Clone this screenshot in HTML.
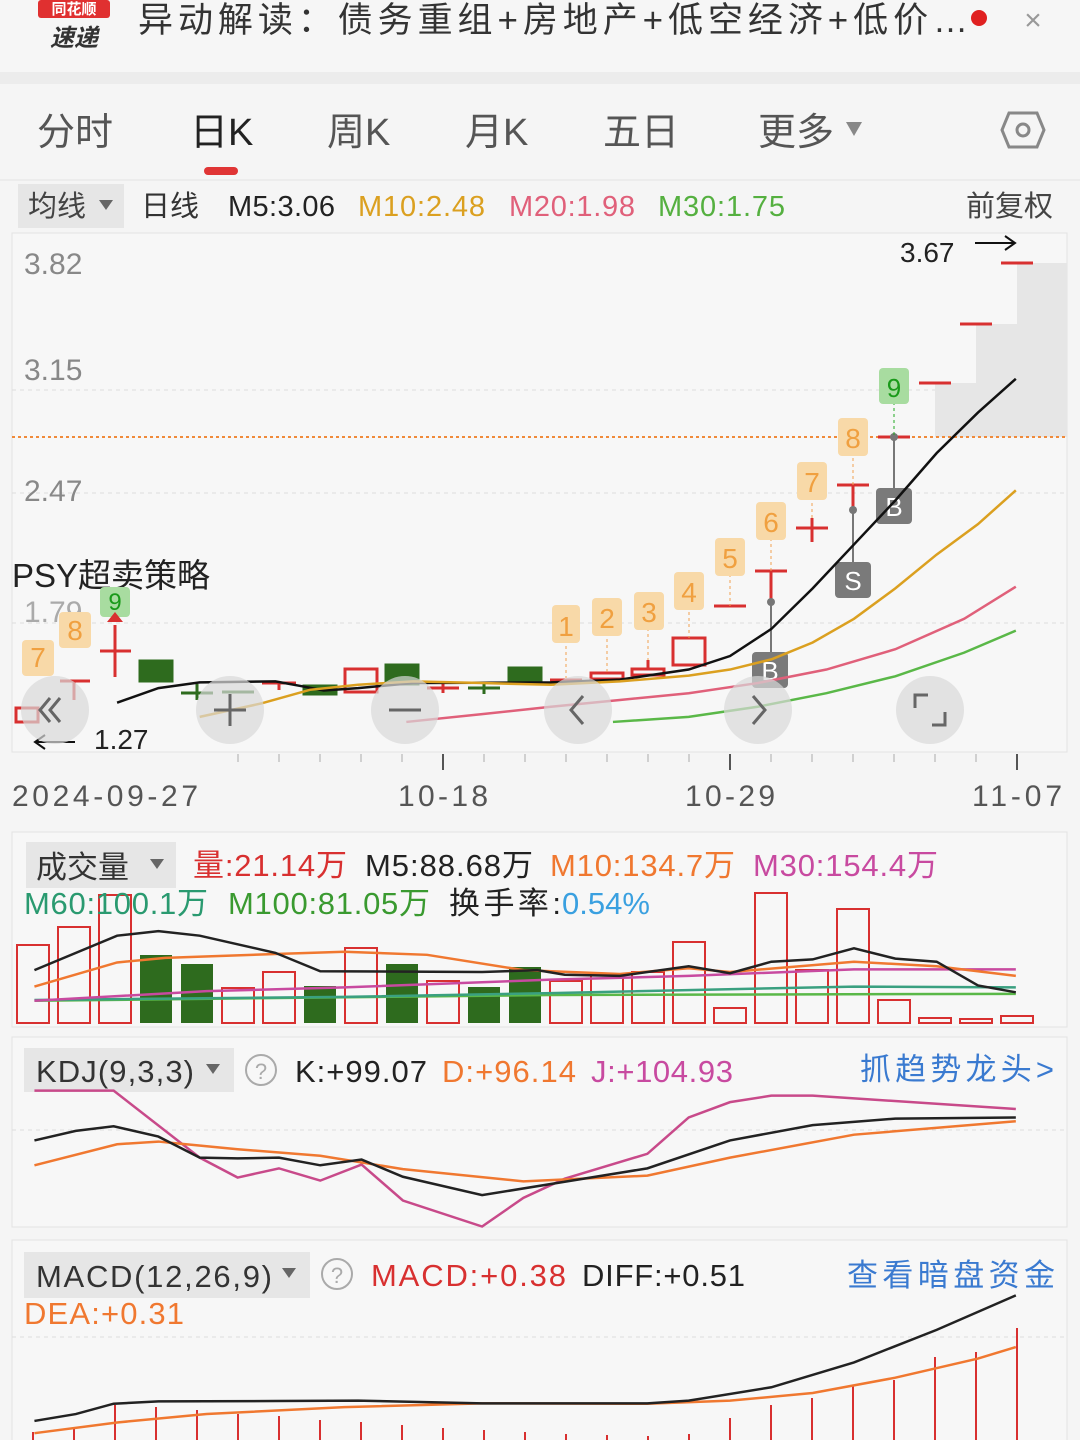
<!DOCTYPE html>
<html><head><meta charset="utf-8"><style>
html,body{margin:0;padding:0;background:#f4f4f4;}
svg{display:block;font-family:"Liberation Sans","Noto Sans CJK SC",sans-serif;}
</style></head><body>
<svg width="1080" height="1440" viewBox="0 0 1080 1440" xmlns="http://www.w3.org/2000/svg">
<rect width="1080" height="1440" fill="#f5f5f5"/>
<!-- header -->
<rect x="0" y="0" width="1080" height="72" fill="#f6f6f6"/>
<rect x="38" y="0" width="72" height="18" rx="3" fill="#e03030"/>
<text x="74" y="14" font-size="15" fill="#fff" text-anchor="middle" font-weight="bold">同花顺</text>
<text x="74" y="46" font-size="24" fill="#333" text-anchor="middle" font-weight="bold" font-style="italic">速递</text>
<text x="138" y="32" font-size="35" fill="#333" textLength="830">异动解读：债务重组+房地产+低空经济+低价…</text>
<circle cx="979" cy="18" r="8" fill="#e02020"/>
<text x="1033" y="30" font-size="30" fill="#999" text-anchor="middle">×</text>
<rect x="0" y="72" width="1080" height="12" fill="#ececec"/>
<!-- tabs -->
<g font-size="38" fill="#555">
<text x="37" y="145">分时</text>
<text x="190" y="145" fill="#222">日K</text>
<text x="327" y="145">周K</text>
<text x="465" y="145">月K</text>
<text x="603" y="145">五日</text>
<text x="758" y="145">更多</text>
</g>
<path d="M846 122 L862 122 L854 136 Z" fill="#888"/>
<polygon points="1009,113 1037,113 1044,130 1037,147 1009,147 1002,130" fill="none" stroke="#888" stroke-width="3"/>
<circle cx="1023" cy="130" r="6" fill="none" stroke="#888" stroke-width="3"/>
<rect x="204" y="167" width="34" height="8" rx="4" fill="#e03535"/>
<line x1="0" y1="180" x2="1080" y2="180" stroke="#e2e2e2"/>
<!-- MA row -->
<rect x="18" y="184" width="106" height="44" fill="#e6e6e6"/>
<text x="28" y="216" font-size="29" fill="#444">均线</text>
<path d="M99 200 L113 200 L106 210 Z" fill="#666"/>
<text x="141" y="216" font-size="29" fill="#333">日线</text>
<text x="228" y="216" font-size="29" fill="#222" textLength="107">M5:3.06</text>
<text x="358" y="216" font-size="29" fill="#dba020" textLength="127">M10:2.48</text>
<text x="509" y="216" font-size="29" fill="#e0607a" textLength="126">M20:1.98</text>
<text x="658" y="216" font-size="29" fill="#55b040" textLength="127">M30:1.75</text>
<text x="966" y="216" font-size="29" fill="#444">前复权</text>
<!-- main chart panel -->
<rect x="12" y="233" width="1055" height="519" fill="#f7f7f7" stroke="#e3e3e3"/>
<g stroke="#ddd" stroke-dasharray="4,4">
<line x1="12" y1="390" x2="1067" y2="390"/>
<line x1="12" y1="493" x2="1067" y2="493"/>
<line x1="12" y1="623" x2="1067" y2="623"/>
</g>
<!-- gray staircase -->
<path d="M935 437 L935 383 L976 383 L976 324 L1017 324 L1017 263 L1067 263 L1067 437 Z" fill="#e6e6e6"/>
<line x1="12" y1="437" x2="1067" y2="437" stroke="#f08a3a" stroke-width="2" stroke-dasharray="3,3"/>
<g font-size="30" fill="#888">
<text x="24" y="274">3.82</text>
<text x="24" y="380">3.15</text>
<text x="24" y="501">2.47</text>
<text x="24" y="622" fill="#aaa">1.79</text>
</g>
<text x="900" y="262" font-size="28" fill="#222">3.67</text>
<path d="M975 243 L1015 243 M1005 236 L1015 243 L1005 250" stroke="#111" stroke-width="2" fill="none"/>
<text x="94" y="749" font-size="28" fill="#222">1.27</text>
<path d="M75 742 L35 742 M45 735 L35 742 L45 749" stroke="#111" stroke-width="2" fill="none"/>
<text x="12" y="587" font-size="33" fill="#222">PSY超卖策略</text>
<!-- candles -->
<g stroke="#d83030" stroke-width="3" fill="none">
<rect x="16" y="708" width="22" height="14"/>
<line x1="60" y1="681" x2="90" y2="681"/><line x1="74" y1="681" x2="74" y2="700"/>
<line x1="100" y1="651" x2="131" y2="651"/><line x1="115" y1="625" x2="115" y2="677"/>
<line x1="262" y1="683" x2="296" y2="683"/><line x1="279" y1="683" x2="279" y2="690"/>
<rect x="345" y="669" width="32" height="23"/>
<line x1="427" y1="688" x2="459" y2="688"/><line x1="443" y1="684" x2="443" y2="693"/>
<line x1="550" y1="680" x2="582" y2="680"/>
<rect x="591" y="673" width="32" height="6"/>
<rect x="632" y="669" width="32" height="6"/><line x1="648" y1="660" x2="648" y2="669"/>
<rect x="673" y="638" width="32" height="27"/>
<line x1="714" y1="606" x2="746" y2="606"/>
<line x1="755" y1="571" x2="787" y2="571"/><line x1="771" y1="571" x2="771" y2="602"/>
<line x1="796" y1="528" x2="828" y2="528"/><line x1="812" y1="518" x2="812" y2="542"/>
<line x1="837" y1="485" x2="869" y2="485"/><line x1="853" y1="485" x2="853" y2="510"/>
<line x1="878" y1="437" x2="910" y2="437"/>
<line x1="919" y1="383" x2="951" y2="383"/>
<line x1="960" y1="324" x2="992" y2="324"/>
<line x1="1001" y1="263" x2="1033" y2="263"/>
</g>
<g fill="#2e6b1e" stroke="#2e6b1e" stroke-width="3">
<rect x="140" y="661" width="32" height="20"/>
<line x1="181" y1="693" x2="213" y2="693"/><line x1="197" y1="684" x2="197" y2="700"/>
<line x1="222" y1="692" x2="254" y2="692"/>
<rect x="304" y="686" width="32" height="8"/>
<rect x="386" y="665" width="32" height="19"/>
<line x1="468" y1="688" x2="500" y2="688"/><line x1="484" y1="683" x2="484" y2="694"/>
<rect x="509" y="668" width="32" height="12"/>
</g>
<!-- grey B/S markers -->
<g stroke="#777" stroke-width="2"><line x1="771" y1="602" x2="771" y2="660"/><line x1="853" y1="510" x2="853" y2="565"/><line x1="894" y1="437" x2="894" y2="488"/></g>
<g fill="#777"><circle cx="771" cy="602" r="4"/><circle cx="853" cy="510" r="4"/><circle cx="894" cy="437" r="4"/></g>
<g fill="#7a7a7a"><rect x="752" y="652" width="36" height="36" rx="4"/><rect x="835" y="562" width="36" height="36" rx="4"/><rect x="876" y="488" width="36" height="36" rx="4"/></g>
<g fill="#fff" font-size="26" text-anchor="middle"><text x="770" y="680">B</text><text x="853" y="590">S</text><text x="894" y="516">B</text></g>
<!-- number tags -->
<g stroke="#f0a050" stroke-width="1" stroke-dasharray="3,3">
<line x1="566" y1="640" x2="566" y2="678"/><line x1="607" y1="633" x2="607" y2="672"/><line x1="648" y1="628" x2="648" y2="660"/><line x1="689" y1="606" x2="689" y2="638"/>
<line x1="730" y1="574" x2="730" y2="606"/><line x1="771" y1="538" x2="771" y2="571"/><line x1="812" y1="497" x2="812" y2="518"/><line x1="853" y1="452" x2="853" y2="485"/>
</g>
<line x1="894" y1="402" x2="894" y2="437" stroke="#2a2" stroke-dasharray="3,3"/>
<g fill="#f8d9a8">
<rect x="22" y="640" width="32" height="36" rx="4"/><rect x="59" y="612" width="32" height="36" rx="4"/>
<rect x="552" y="605" width="28" height="38" rx="4"/><rect x="592" y="598" width="30" height="38" rx="4"/><rect x="634" y="592" width="30" height="38" rx="4"/><rect x="674" y="572" width="30" height="38" rx="4"/>
<rect x="715" y="538" width="30" height="38" rx="4"/><rect x="756" y="502" width="30" height="38" rx="4"/><rect x="797" y="462" width="30" height="38" rx="4"/><rect x="838" y="418" width="30" height="38" rx="4"/>
</g>
<rect x="879" y="368" width="30" height="36" rx="4" fill="#a8dca0"/>
<rect x="100" y="587" width="30" height="30" rx="4" fill="#a8dca0"/>
<path d="M107 622 L115 612 L123 622 Z" fill="#d83030"/>
<g font-size="28" fill="#f0a040" text-anchor="middle">
<text x="38" y="667">7</text><text x="75" y="640">8</text>
<text x="566" y="636">1</text><text x="607" y="628">2</text><text x="649" y="622">3</text><text x="689" y="602">4</text>
<text x="730" y="568">5</text><text x="771" y="532">6</text><text x="812" y="492">7</text><text x="853" y="448">8</text>
</g>
<text x="894" y="397" font-size="26" fill="#1a9a1a" text-anchor="middle">9</text>
<text x="115" y="610" font-size="24" fill="#1a9a1a" text-anchor="middle">9</text>
<!-- MA lines in zoom coords -->
<g transform="translate(0,230) scale(0.6887,0.3381)" fill="none" stroke-width="2.5">
<polyline vector-effect="non-scaling-stroke" stroke="#111" points="170,1398 230,1355 290,1338 400,1335 440,1350 470,1362 520,1355 600,1340 800,1338 900,1330 1000,1300 1060,1260 1120,1180 1180,1060 1240,930 1300,800 1360,660 1420,540 1475,440"/>
<polyline vector-effect="non-scaling-stroke" stroke="#dba020" points="290,1440 380,1400 450,1360 520,1345 600,1335 700,1340 800,1345 900,1335 1000,1318 1060,1300 1120,1270 1180,1220 1240,1150 1300,1060 1360,960 1420,870 1475,770"/>
<polyline vector-effect="non-scaling-stroke" stroke="#e0607a" points="590,1455 700,1432 800,1410 900,1390 1000,1370 1100,1340 1200,1300 1300,1240 1400,1150 1475,1055"/>
<polyline vector-effect="non-scaling-stroke" stroke="#5ab848" points="890,1455 1000,1440 1100,1410 1200,1370 1300,1320 1400,1250 1475,1185"/>
</g>
<!-- nav overlay buttons -->
<g fill="#d8d8d8" fill-opacity="0.7">
<circle cx="55" cy="710" r="34"/><circle cx="230" cy="710" r="34"/><circle cx="405" cy="710" r="34"/><circle cx="578" cy="710" r="34"/><circle cx="758" cy="710" r="34"/><circle cx="930" cy="710" r="34"/>
</g>
<g stroke="#666" stroke-width="3" fill="none">
<path d="M50 698 L40 710 L50 722 M60 698 L50 710 L60 722"/>
<path d="M214 710 L246 710 M230 694 L230 726"/>
<path d="M389 710 L421 710"/>
<path d="M583 696 L571 710 L583 724"/>
<path d="M753 696 L765 710 L753 724"/>
<path d="M915 708 L915 695 L928 695 M945 712 L945 725 L932 725"/>
</g>
<!-- x axis ticks -->
<g stroke="#aaa" stroke-width="1">
<line x1="238" y1="754" x2="238" y2="762"/><line x1="279" y1="754" x2="279" y2="762"/><line x1="320" y1="754" x2="320" y2="762"/><line x1="361" y1="754" x2="361" y2="762"/><line x1="402" y1="754" x2="402" y2="762"/>
<line x1="484" y1="754" x2="484" y2="762"/><line x1="525" y1="754" x2="525" y2="762"/><line x1="566" y1="754" x2="566" y2="762"/><line x1="607" y1="754" x2="607" y2="762"/><line x1="648" y1="754" x2="648" y2="762"/><line x1="689" y1="754" x2="689" y2="762"/>
<line x1="771" y1="754" x2="771" y2="762"/><line x1="812" y1="754" x2="812" y2="762"/><line x1="853" y1="754" x2="853" y2="762"/><line x1="894" y1="754" x2="894" y2="762"/><line x1="935" y1="754" x2="935" y2="762"/><line x1="976" y1="754" x2="976" y2="762"/>
</g>
<g stroke="#555" stroke-width="2"><line x1="443" y1="754" x2="443" y2="770"/><line x1="730" y1="754" x2="730" y2="770"/><line x1="1017" y1="754" x2="1017" y2="770"/></g>
<g font-size="30" fill="#555">
<text x="12" y="806" textLength="186">2024-09-27</text>
<text x="398" y="806" textLength="90">10-18</text>
<text x="685" y="806" textLength="90">10-29</text>
<text x="972" y="806" textLength="90">11-07</text>
</g>
<!-- volume panel -->
<rect x="12" y="832" width="1055" height="195" fill="#f7f7f7" stroke="#e3e3e3"/>
<g fill="none" stroke="#d83030" stroke-width="2">
<rect x="17" y="945" width="32" height="78"/><rect x="58" y="927" width="32" height="96"/><rect x="99" y="895" width="32" height="128"/>
<rect x="222" y="988" width="32" height="35"/><rect x="263" y="972" width="32" height="51"/><rect x="345" y="948" width="32" height="75"/>
<rect x="427" y="981" width="32" height="42"/><rect x="550" y="981" width="32" height="42"/><rect x="591" y="975" width="32" height="48"/><rect x="632" y="972" width="32" height="51"/>
<rect x="673" y="942" width="32" height="81"/><rect x="714" y="1008" width="32" height="15"/><rect x="755" y="893" width="32" height="130"/><rect x="796" y="970" width="32" height="53"/>
<rect x="837" y="909" width="32" height="114"/><rect x="878" y="1000" width="32" height="23"/><rect x="919" y="1018" width="32" height="5"/><rect x="960" y="1019" width="32" height="4"/><rect x="1001" y="1016" width="32" height="7"/>
</g>
<g fill="#2e6b1e">
<rect x="140" y="955" width="32" height="68"/><rect x="181" y="964" width="32" height="59"/><rect x="304" y="986" width="32" height="37"/><rect x="386" y="964" width="32" height="59"/>
<rect x="468" y="987" width="32" height="36"/><rect x="509" y="967" width="32" height="56"/>
</g>
<g transform="translate(0,840) scale(0.6887,0.3827)" fill="none" stroke-width="2.5">
<polyline vector-effect="non-scaling-stroke" stroke="#5ab848" points="50,420 800,405 1475,402"/>
<polyline vector-effect="non-scaling-stroke" stroke="#3aa080" points="50,418 500,410 800,400 1240,383 1475,385"/>
<polyline vector-effect="non-scaling-stroke" stroke="#c84aa0" points="50,420 300,395 500,385 800,365 1000,355 1240,338 1475,338"/>
<polyline vector-effect="non-scaling-stroke" stroke="#f07830" points="50,383 170,320 240,308 400,298 500,292 620,300 760,340 900,350 1000,335 1060,345 1240,318 1360,330 1475,355"/>
<polyline vector-effect="non-scaling-stroke" stroke="#222" points="50,340 170,250 230,238 290,250 400,295 465,343 700,345 780,340 820,352 900,355 1000,330 1060,348 1120,318 1180,312 1240,283 1300,310 1360,318 1420,380 1475,398"/>
</g>
<rect x="26" y="842" width="150" height="46" fill="#e6e6e6"/>
<text x="36" y="878" font-size="31" fill="#333">成交量</text>
<path d="M150 859 L164 859 L157 869 Z" fill="#666"/>
<g font-size="31">
<text x="193" y="876" fill="#d83030" textLength="154">量:21.14万</text>
<text x="365" y="876" fill="#222" textLength="168">M5:88.68万</text>
<text x="550" y="876" fill="#f07830" textLength="185">M10:134.7万</text>
<text x="753" y="876" fill="#c84aa0" textLength="185">M30:154.4万</text>
<text x="24" y="914" fill="#2a9a70" textLength="184">M60:100.1万</text>
<text x="228" y="914" fill="#3a9a30" textLength="202">M100:81.05万</text>
<text x="449" y="914" fill="#222" textLength="112">换手率:</text>
<text x="562" y="914" fill="#3aa0e0" textLength="88">0.54%</text>
</g>
<!-- KDJ panel -->
<rect x="12" y="1037" width="1055" height="190" fill="#f7f7f7" stroke="#e3e3e3"/>
<line x1="12" y1="1130" x2="1067" y2="1130" stroke="#ddd" stroke-dasharray="4,4"/>
<rect x="24" y="1048" width="210" height="44" fill="#e6e6e6"/>
<text x="36" y="1082" font-size="31" fill="#333" textLength="158">KDJ(9,3,3)</text>
<path d="M206 1064 L220 1064 L213 1074 Z" fill="#666"/>
<circle cx="261" cy="1070" r="15" fill="none" stroke="#aaa" stroke-width="2"/>
<text x="261" y="1079" font-size="22" fill="#aaa" text-anchor="middle">?</text>
<g font-size="31">
<text x="295" y="1082" fill="#222" textLength="132">K:+99.07</text>
<text x="442" y="1082" fill="#f07830" textLength="134">D:+96.14</text>
<text x="591" y="1082" fill="#c84aa0" textLength="142">J:+104.93</text>
<text x="860" y="1080" fill="#3a7ad0" textLength="194">抓趋势龙头&gt;</text>
</g>
<g transform="translate(0,840) scale(0.6887,0.3827)" fill="none" stroke-width="2.5">
<polyline vector-effect="non-scaling-stroke" stroke="#c84a8a" points="50,655 165,655 290,830 345,882 405,858 465,890 525,848 585,942 700,1010 760,935 820,885 940,820 1000,725 1060,685 1120,668 1180,668 1475,703"/>
<polyline vector-effect="non-scaling-stroke" stroke="#f07830" points="50,850 170,795 230,788 345,808 465,825 585,860 760,892 940,877 1060,830 1240,770 1475,735"/>
<polyline vector-effect="non-scaling-stroke" stroke="#222" points="50,785 110,760 165,748 230,775 290,830 345,832 405,830 465,850 525,835 585,880 700,928 820,893 940,858 1060,785 1180,745 1300,728 1475,725"/>
</g>
<!-- MACD panel -->
<rect x="12" y="1240" width="1055" height="210" fill="#f7f7f7" stroke="#e3e3e3"/>
<line x1="12" y1="1337" x2="1067" y2="1337" stroke="#ddd" stroke-dasharray="4,4"/>
<rect x="24" y="1252" width="286" height="46" fill="#e6e6e6"/>
<text x="36" y="1287" font-size="31" fill="#333" textLength="236">MACD(12,26,9)</text>
<path d="M282 1268 L296 1268 L289 1278 Z" fill="#666"/>
<circle cx="337" cy="1274" r="15" fill="none" stroke="#aaa" stroke-width="2"/>
<text x="337" y="1283" font-size="22" fill="#aaa" text-anchor="middle">?</text>
<g font-size="31">
<text x="371" y="1286" fill="#d83030" textLength="195">MACD:+0.38</text>
<text x="582" y="1286" fill="#222" textLength="163">DIFF:+0.51</text>
<text x="847" y="1286" fill="#3a7ad0" textLength="208">查看暗盘资金</text>
<text x="24" y="1324" fill="#f07830" textLength="160">DEA:+0.31</text>
</g>
<g stroke="#d83030" stroke-width="2">
<line x1="33" y1="1440" x2="33" y2="1432"/><line x1="74" y1="1440" x2="74" y2="1428"/><line x1="115" y1="1440" x2="115" y2="1405"/><line x1="156" y1="1440" x2="156" y2="1407"/><line x1="197" y1="1440" x2="197" y2="1410"/>
<line x1="238" y1="1440" x2="238" y2="1414"/><line x1="279" y1="1440" x2="279" y2="1416"/><line x1="320" y1="1440" x2="320" y2="1420"/><line x1="361" y1="1440" x2="361" y2="1422"/><line x1="402" y1="1440" x2="402" y2="1425"/>
<line x1="443" y1="1440" x2="443" y2="1428"/><line x1="484" y1="1440" x2="484" y2="1430"/><line x1="525" y1="1440" x2="525" y2="1432"/><line x1="566" y1="1440" x2="566" y2="1434"/><line x1="607" y1="1440" x2="607" y2="1435"/>
<line x1="648" y1="1440" x2="648" y2="1436"/><line x1="689" y1="1440" x2="689" y2="1434"/><line x1="730" y1="1440" x2="730" y2="1418"/><line x1="771" y1="1440" x2="771" y2="1405"/><line x1="812" y1="1440" x2="812" y2="1398"/>
<line x1="853" y1="1440" x2="853" y2="1385"/><line x1="894" y1="1440" x2="894" y2="1380"/><line x1="935" y1="1440" x2="935" y2="1357"/><line x1="976" y1="1440" x2="976" y2="1352"/><line x1="1017" y1="1440" x2="1017" y2="1328"/>
</g>
<g transform="translate(0,840) scale(0.6887,0.3827)" fill="none" stroke-width="2.5">
<polyline vector-effect="non-scaling-stroke" stroke="#f07830" points="50,1550 170,1522 300,1500 500,1482 700,1472 940,1473 1060,1465 1180,1445 1300,1405 1420,1355 1475,1325"/>
<polyline vector-effect="non-scaling-stroke" stroke="#222" points="50,1518 110,1500 165,1473 230,1467 400,1466 520,1465 700,1472 940,1472 1000,1465 1120,1430 1240,1365 1360,1280 1475,1190"/>
</g>
</svg>
</body></html>
